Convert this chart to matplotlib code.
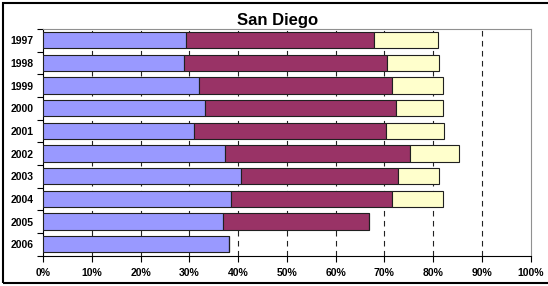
import matplotlib
matplotlib.use("Agg")
import matplotlib.pyplot as plt
import matplotlib.patches as patches
import numpy as np

plt.rcParams['font.family'] = ['Liberation Sans', 'DejaVu Sans']

# data (cumulative % at the end of each segment)
years = ["1997", "1998", "1999", "2000", "2001", "2002", "2003", "2004", "2005", "2006"]
blueEnd = [29.2, 28.8, 32.0, 33.1, 31.0, 37.2, 40.5, 38.6, 36.8, 38.1]
maroonEnd = [67.8, 70.6, 71.5, 72.3, 70.4, 75.2, 72.9, 71.6, 66.8, 38.1]
yellowEnd = [81.1, 81.3, 82.1, 82.1, 82.2, 85.4, 81.3, 82.0, 66.8, 38.1]

blueVals = np.array(blueEnd)
maroonVals = np.array(maroonEnd) - np.array(blueEnd)
yellowVals = np.array(yellowEnd) - np.array(maroonEnd)

fig = plt.figure(figsize=(5.48, 2.86), dpi=100)
ax = fig.add_axes([43.3 / 548, 1 - 255.5 / 286, (530.5 - 43.3) / 548, (255.5 - 29) / 286])

#outer frame of the chart
fig.patches.append(patches.Rectangle((2.5 / 548, 3 / 286), 1.2, 280 / 286, transform=fig.transFigure,
                                     fill=False, edgecolor="black", linewidth=1.5))

pos = np.arange(len(years))
h = 0.72
ax.barh(pos, blueVals, height=h, color="#9999FF", edgecolor="#202020", linewidth=0.8, zorder=3)
ax.barh(pos, maroonVals, left=blueVals, height=h, color="#993366", edgecolor="#202020", linewidth=0.8, zorder=3)
ax.barh(pos, yellowVals, left=np.array(maroonEnd), height=h, color="#FFFFCC", edgecolor="#202020", linewidth=0.8, zorder=3)

ax.set_xlim(0, 100)
ax.set_ylim(len(years) - 0.5, -0.5)
ax.set_xticks(np.arange(0, 101, 10))
ax.set_xticklabels([str(v) + "%" for v in range(0, 101, 10)], fontsize=7.5, fontweight="bold")
ax.set_yticks(pos)
ax.set_yticklabels(years, fontsize=7.5, fontweight="bold")
ax.set_yticks(np.arange(-0.5, len(years), 1), minor=True)
ax.tick_params(axis="y", which="major", length=0, pad=7)
ax.tick_params(axis="y", which="minor", length=4, width=0.8, direction="out")
ax.tick_params(axis="x", length=4, width=0.8, direction="out", pad=5)

for v in range(10, 100, 10):
    ax.axvline(v, color="#222222", linestyle=(0, (5, 4)), linewidth=0.8, zorder=1)

ax.spines["left"].set_color("black")
ax.spines["bottom"].set_color("black")
ax.spines["top"].set_color("#909090")
ax.spines["right"].set_color("#909090")

ax.set_title("San Diego", fontsize=12, fontweight="bold", pad=3, x=0.48)

fig.savefig("out.png", dpi=100)
